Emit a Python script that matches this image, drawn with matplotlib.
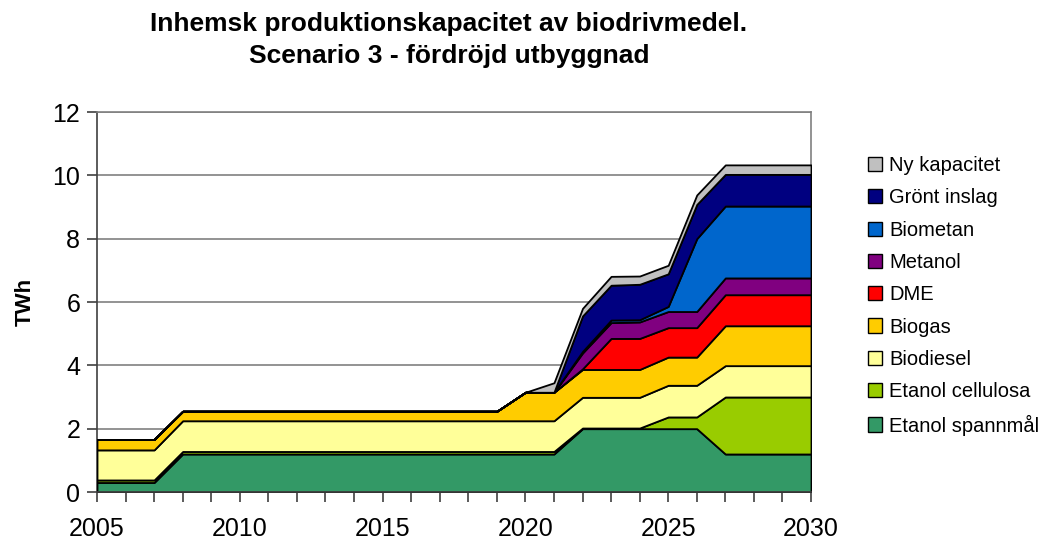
import matplotlib
matplotlib.use("Agg")
import matplotlib.pyplot as plt
from matplotlib.patches import Patch

plt.rcParams['font.family'] = ['Liberation Sans', 'DejaVu Sans']

years = list(range(2005, 2031))

# TWh per year, 2005..2030
etanol_spannmal = [0.30] * 3 + [1.2] * 14 + [2.0] * 5 + [1.2] * 4
etanol_cellulosa = [0.08] * 17 + [0.02] * 3 + [0.37] * 2 + [1.8] * 4
biodiesel = [0.95] * 3 + [0.97] * 14 + [0.97] * 3 + [1.0] * 2 + [0.99] * 4
biogas = [0.33] * 3 + [0.30] * 12 + [0.9] * 2 + [0.88] * 3 + [0.89] * 2 + [1.26] * 4
dme = [0.0] * 17 + [0.02, 0.98, 0.98, 0.93, 0.93] + [0.98] * 4
metanol = [0.0] * 17 + [0.5, 0.5, 0.52, 0.51, 0.51] + [0.53] * 4
biometan = [0.0] * 17 + [0.05, 0.08, 0.07, 0.16, 2.3] + [2.27] * 4
gront_inslag = [0.0] * 17 + [1.12, 1.1, 1.12, 1.03, 1.08] + [1.0] * 4
ny_kapacitet = [0.0] * 16 + [0.3, 0.24, 0.28, 0.26, 0.27, 0.3] + [0.3] * 4

series = [etanol_spannmal, etanol_cellulosa, biodiesel, biogas, dme,
          metanol, biometan, gront_inslag, ny_kapacitet]
labels = ["Etanol spannmål", "Etanol cellulosa", "Biodiesel", "Biogas", "DME",
          "Metanol", "Biometan", "Grönt inslag", "Ny kapacitet"]
colors = ["#339966", "#99CC00", "#FFFF99", "#FFCC00", "#FF0000",
          "#800080", "#0066CC", "#000080", "#C0C0C0"]

fig = plt.figure(figsize=(10.44, 5.4), dpi=100)
ax = fig.add_axes([97 / 1044, 1 - 492 / 540, 714 / 1044, 380 / 540])

ax.stackplot(years, *series, colors=colors, edgecolor="black", linewidth=1.3, zorder=3)

ax.set_xlim(2005, 2030)
ax.set_ylim(0, 12)
ax.set_yticks(range(0, 13, 2))
ax.set_xticks(range(2005, 2031, 5))
ax.set_xticks(years, minor=True)
ax.yaxis.grid(True, color="#808080", linewidth=1.2, zorder=1)
ax.set_axisbelow(True)

for s in ["top", "right"]:
    ax.spines[s].set_color("#808080")
    ax.spines[s].set_linewidth(1.2)
for s in ["left", "bottom"]:
    ax.spines[s].set_color("#404040")
    ax.spines[s].set_linewidth(1.2)
ax.spines["bottom"].set_zorder(5)

ax.tick_params(axis="both", which="both", direction="out", length=7, width=1.2,
               color="#404040", labelsize=18)
ax.tick_params(axis="x", pad=11)
ax.tick_params(axis="y", pad=5)

ax.set_ylabel("TWh", fontsize=16, fontweight="bold", labelpad=12)

fig.text(0.43, 0.978, "Inhemsk produktionskapacitet av biodrivmedel.\nScenario 3 - fördröjd utbyggnad",
         ha="center", va="top", fontsize=19, fontweight="bold", linespacing=1.45)

handles = [Patch(facecolor=c, edgecolor="black", linewidth=1.0) for c in colors]
fig.legend(handles[::-1], labels[::-1], loc="upper left",
           bbox_to_anchor=(850 / 1044, 1 - 138 / 540), frameon=False,
           fontsize=14.5, handlelength=0.7, handleheight=0.7, handletextpad=0.35,
           labelspacing=0.66)

fig.savefig("out.png", dpi=100)
